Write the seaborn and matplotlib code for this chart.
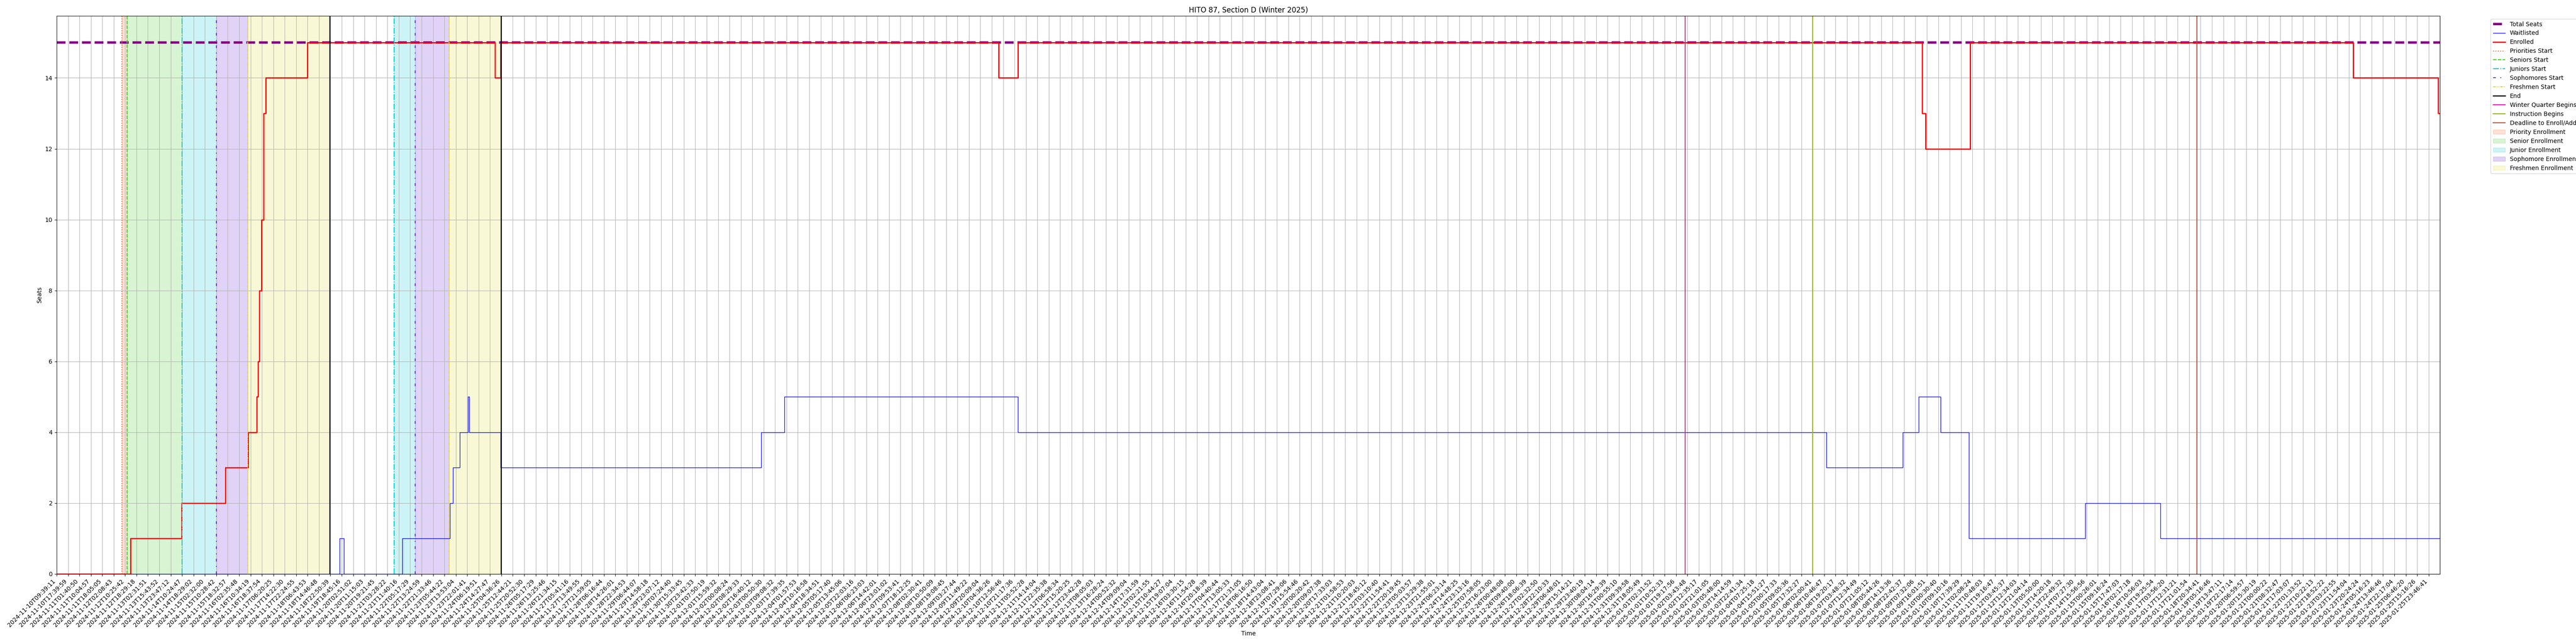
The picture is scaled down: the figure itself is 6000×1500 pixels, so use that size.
import matplotlib
matplotlib.use("Agg")
import matplotlib.pyplot as plt
import seaborn as sns

# ----------------------------
# data (x positions are in units of the labelled samples)
# ----------------------------
tick_labels = [
    "2024-11-10T09:39:11", "2024-11-10T17:39:59", "2024-11-11T01:40:50", "2024-11-11T10:04:57",
    "2024-11-11T18:05:05", "2024-11-12T02:08:43", "2024-11-12T10:25:42", "2024-11-12T18:29:18",
    "2024-11-13T02:31:51", "2024-11-13T15:43:52", "2024-11-13T23:47:12", "2024-11-14T10:24:47",
    "2024-11-14T18:29:02", "2024-11-15T02:32:00", "2024-11-15T10:28:42", "2024-11-15T18:32:57",
    "2024-11-16T02:35:48", "2024-11-16T10:34:19", "2024-11-16T18:37:54", "2024-11-17T06:20:25",
    "2024-11-17T14:22:30", "2024-11-17T22:24:55", "2024-11-18T06:43:53", "2024-11-18T14:46:48",
    "2024-11-18T22:50:39", "2024-11-19T18:45:16", "2024-11-20T02:51:02", "2024-11-20T11:15:03",
    "2024-11-20T19:21:45", "2024-11-21T03:28:22", "2024-11-21T11:40:16", "2024-11-22T05:17:29",
    "2024-11-22T13:24:59", "2024-11-22T21:33:46", "2024-11-23T05:44:22", "2024-11-23T13:53:04",
    "2024-11-23T22:01:41", "2024-11-24T06:19:51", "2024-11-24T14:27:47", "2024-11-25T04:36:26",
    "2024-11-25T12:44:21", "2024-11-25T20:52:30", "2024-11-26T05:17:29", "2024-11-26T13:25:46",
    "2024-11-26T21:34:15", "2024-11-27T05:41:16", "2024-11-27T13:49:55", "2024-11-27T21:59:05",
    "2024-11-28T06:16:44", "2024-11-28T14:26:01", "2024-11-28T22:34:53", "2024-11-29T06:44:07",
    "2024-11-29T14:58:18", "2024-11-29T23:07:12", "2024-11-30T07:24:40", "2024-11-30T15:33:45",
    "2024-11-30T23:42:33", "2024-12-01T07:50:19", "2024-12-01T15:59:32", "2024-12-02T00:08:24",
    "2024-12-02T08:29:33", "2024-12-02T16:40:12", "2024-12-03T00:50:30", "2024-12-03T09:08:32",
    "2024-12-03T17:39:35", "2024-12-04T01:57:53", "2024-12-04T10:16:58", "2024-12-04T18:34:51",
    "2024-12-05T05:17:40", "2024-12-05T13:45:06", "2024-12-05T22:03:16", "2024-12-06T06:23:03",
    "2024-12-06T14:42:01", "2024-12-06T23:01:02", "2024-12-07T09:53:41", "2024-12-07T18:12:25",
    "2024-12-08T02:30:41", "2024-12-08T10:50:09", "2024-12-08T19:08:45", "2024-12-09T03:27:44",
    "2024-12-09T11:49:22", "2024-12-09T20:09:04", "2024-12-10T04:36:26", "2024-12-10T12:56:46",
    "2024-12-10T21:17:36", "2024-12-11T05:52:28", "2024-12-11T14:14:04", "2024-12-11T22:35:38",
    "2024-12-12T06:58:34", "2024-12-12T15:20:25", "2024-12-12T23:42:28", "2024-12-13T08:05:03",
    "2024-12-13T16:28:24", "2024-12-14T00:52:32", "2024-12-14T09:09:04", "2024-12-14T17:31:59",
    "2024-12-15T02:21:55", "2024-12-15T10:44:27", "2024-12-15T19:07:04", "2024-12-16T03:30:15",
    "2024-12-16T11:54:28", "2024-12-16T20:18:39", "2024-12-17T04:40:44", "2024-12-17T13:05:33",
    "2024-12-17T21:31:05", "2024-12-18T06:16:50", "2024-12-18T14:43:04", "2024-12-18T23:08:41",
    "2024-12-19T07:29:06", "2024-12-19T15:54:46", "2024-12-20T00:20:42", "2024-12-20T09:07:38",
    "2024-12-20T17:33:03", "2024-12-21T01:58:53", "2024-12-21T10:20:03", "2024-12-21T18:45:12",
    "2024-12-22T03:10:40", "2024-12-22T11:54:41", "2024-12-22T20:19:45", "2024-12-23T05:03:57",
    "2024-12-23T13:29:38", "2024-12-23T21:55:01", "2024-12-24T06:23:14", "2024-12-24T14:48:25",
    "2024-12-24T23:13:16", "2024-12-25T07:58:05", "2024-12-25T16:23:00", "2024-12-26T00:48:08",
    "2024-12-26T09:40:00", "2024-12-26T18:06:39", "2024-12-27T02:32:50", "2024-12-28T22:10:33",
    "2024-12-29T06:48:01", "2024-12-29T15:14:21", "2024-12-29T23:40:19", "2024-12-30T08:04:14",
    "2024-12-30T16:29:39", "2024-12-31T00:55:10", "2024-12-31T09:39:58", "2024-12-31T18:05:49",
    "2025-01-01T02:31:52", "2025-01-01T10:52:33", "2025-01-01T19:17:56", "2025-01-02T03:43:48",
    "2025-01-02T12:35:17", "2025-01-02T21:01:05", "2025-01-03T05:48:00", "2025-01-03T14:14:59",
    "2025-01-03T22:41:34", "2025-01-04T07:25:18", "2025-01-04T15:51:27", "2025-01-05T00:17:33",
    "2025-01-05T09:05:36", "2025-01-05T17:32:27", "2025-01-06T02:00:41", "2025-01-06T10:46:47",
    "2025-01-06T19:20:17", "2025-01-07T03:48:32", "2025-01-07T12:34:49", "2025-01-07T21:05:12",
    "2025-01-08T05:44:26", "2025-01-08T14:13:36", "2025-01-08T22:42:37", "2025-01-09T07:32:06",
    "2025-01-09T16:01:51", "2025-01-10T00:30:40", "2025-01-10T09:10:16", "2025-01-10T17:39:29",
    "2025-01-11T02:08:24", "2025-01-11T10:48:03", "2025-01-11T19:16:47", "2025-01-12T03:45:37",
    "2025-01-12T12:34:03", "2025-01-12T21:04:14", "2025-01-13T05:50:00", "2025-01-13T14:20:18",
    "2025-01-13T22:49:32", "2025-01-14T07:27:30", "2025-01-14T15:56:56", "2025-01-15T00:26:01",
    "2025-01-15T09:16:24", "2025-01-15T17:47:03", "2025-01-16T02:17:18", "2025-01-16T10:56:03",
    "2025-01-16T19:25:54", "2025-01-17T03:56:20", "2025-01-17T12:31:21", "2025-01-17T21:01:54",
    "2025-01-18T20:34:41", "2025-01-19T05:16:46", "2025-01-19T13:47:11", "2025-01-19T22:17:14",
    "2025-01-20T06:59:57", "2025-01-20T15:30:19", "2025-01-21T00:00:22", "2025-01-21T08:32:47",
    "2025-01-21T17:03:07", "2025-01-22T01:33:52", "2025-01-22T10:22:13", "2025-01-22T18:52:22",
    "2025-01-23T03:22:55", "2025-01-23T11:54:04", "2025-01-23T20:24:24", "2025-01-24T05:16:23",
    "2025-01-24T13:46:46", "2025-01-24T22:17:04", "2025-01-25T06:46:20", "2025-01-25T15:16:26",
    "2025-01-25T23:46:41",
]
last_sample = 209.0

total_seats = 15

# change points of the step series
enrolled_pos = [0, 6.46, 10.95, 14.8, 16.8, 17.55, 17.65, 17.78, 17.96, 18.13, 18.33, 22.0,
                38.45, 38.93, 82.6, 84.3, 163.6, 163.9, 167.8, 201.4, 208.85, last_sample]
enrolled_val = [0, 1, 2, 3, 4, 5, 6, 8, 10, 13, 14, 15,
                14, 15, 14, 15, 13, 12, 15, 14, 13, 13]

waitlist_pos = [0, 24.8, 25.2, 30.3, 34.5, 34.75, 35.36, 36.07, 36.2, 38.93, 61.8, 63.8,
                84.3, 155.2, 161.9, 163.3, 165.2, 167.7, 177.9, 184.5, last_sample]
waitlist_val = [0, 1, 0, 1, 2, 3, 4, 5, 4, 3, 4, 5,
                4, 3, 4, 5, 4, 1, 2, 1, 1]

# enrollment passes: start of each phase (None = phase not in that pass) and end
first_pass = {"Priorities": 5.72, "Seniors": 6.17, "Juniors": 11.0,
              "Sophomores": 14.0, "Freshmen": 16.75, "End": 23.95}
second_pass = {"Priorities": None, "Seniors": None, "Juniors": 29.6,
               "Sophomores": 31.45, "Freshmen": 34.4, "End": 38.97}

quarter_events = {"Winter Quarter Begins": 142.8,
                  "Instruction Begins": 154.0,
                  "Deadline to Enroll/Add": 187.7}

# ----------------------------
# styles
# ----------------------------
phases = ["Priorities", "Seniors", "Juniors", "Sophomores", "Freshmen"]
phase_span_names = {"Priorities": "Priority Enrollment", "Seniors": "Senior Enrollment",
                    "Juniors": "Junior Enrollment", "Sophomores": "Sophomore Enrollment",
                    "Freshmen": "Freshmen Enrollment"}
phase_colors = {"Priorities": "#f26b2b", "Seniors": "#44cc22", "Juniors": "#00c8d2",
                "Sophomores": "#6a24e0", "Freshmen": "#dcdc32"}
phase_styles = {"Priorities": ":", "Seniors": "--", "Juniors": "-.",
                "Sophomores": (0, (3, 5, 1, 5)), "Freshmen": (0, (3, 1, 1, 1, 1, 1))}
event_colors = {"Winter Quarter Begins": "#e6149b",
                "Instruction Begins": "#8db51f",
                "Deadline to Enroll/Add": "#d0401c"}

# ----------------------------
# plot
# ----------------------------
fig, ax = plt.subplots(figsize=(60, 15), dpi=100)
fig.subplots_adjust(left=0.022, right=0.9472, top=0.9753, bottom=0.1087)

ax.axhline(total_seats, color="purple", linestyle="--", linewidth=4, label="Total Seats")
sns.lineplot(x=waitlist_pos, y=waitlist_val, ax=ax, color="blue", linewidth=1,
             drawstyle="steps-post", label="Waitlisted")
sns.lineplot(x=enrolled_pos, y=enrolled_val, ax=ax, color="red", linewidth=2,
             drawstyle="steps-post", label="Enrolled")

for i, p in enumerate([first_pass, second_pass]):
    for ph in phases:
        if p[ph] is None:
            continue
        ax.axvline(p[ph], color=phase_colors[ph], linestyle=phase_styles[ph], linewidth=1.5,
                   label=f"{ph} Start" if i == 0 else "_nolegend_")
    ax.axvline(p["End"], color="black", linewidth=1.8,
               label="End" if i == 0 else "_nolegend_")

for name, pos in quarter_events.items():
    ax.axvline(pos, color=event_colors[name], linewidth=1.5, label=name)

# shaded phases: each one runs until the next phase starts (or the end)
for i, p in enumerate([first_pass, second_pass]):
    starts = [(ph, p[ph]) for ph in phases if p[ph] is not None]
    for j, (ph, s) in enumerate(starts):
        e = starts[j + 1][1] if j + 1 < len(starts) else p["End"]
        ax.axvspan(s, e, color=phase_colors[ph], alpha=0.2,
                   label=phase_span_names[ph] if i == 0 else "_nolegend_")

ax.set_xticks(range(len(tick_labels)))
ax.set_xticklabels(tick_labels, rotation=45, ha="right")
ax.set_xlim(0, last_sample)
ax.set_ylim(0, 15.75)
ax.grid(True)

ax.set_xlabel("Time")
ax.set_ylabel("Seats")
ax.set_title("HITO 87, Section D (Winter 2025)")
ax.legend(bbox_to_anchor=(1.02, 1), loc="upper left")

plt.savefig("out.png", dpi=100)
